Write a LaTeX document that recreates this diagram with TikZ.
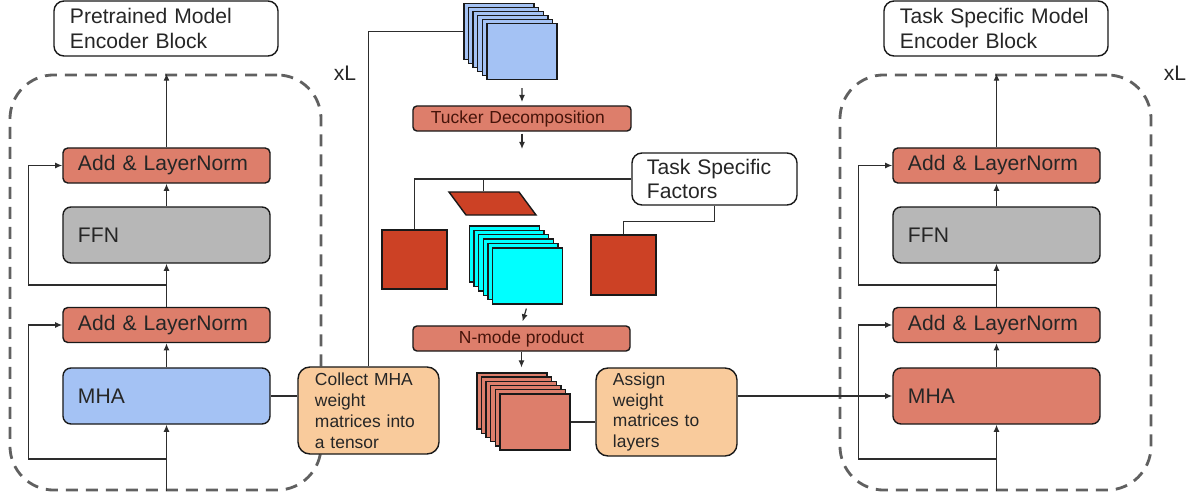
\documentclass[tikz,border=0pt]{standalone}
\usepackage{fontspec}
\setmainfont{Liberation Sans}
\usepackage{tikz}
\usetikzlibrary{arrows.meta,positioning,calc}
\usepackage{xcolor}
\definecolor{salmon}{RGB}{221,126,107}
\definecolor{ffngray}{RGB}{183,183,183}
\definecolor{mhablue}{RGB}{164,194,244}
\definecolor{noteorange}{RGB}{249,203,156}
\definecolor{factorred}{RGB}{204,65,37}
\definecolor{corecyan}{RGB}{0,255,255}
\definecolor{dashgray}{RGB}{96,96,96}
\definecolor{linegray}{RGB}{45,45,45}
\definecolor{optext}{RGB}{70,20,10}
\newcommand{\mainsize}{\fontsize{15}{17.7}\selectfont}
\newcommand{\notesize}{\fontsize{12.4}{14.9}\selectfont}
\tikzset{
  enode/.style={draw=black!90,line width=1pt,rounded corners=1.2mm,minimum width=5.175cm,minimum height=0.875cm,
    text width=4.425cm,inner xsep=0.375cm,inner ysep=0pt,align=left,font=\mainsize,text=black!85},
  enoder/.style={enode,fill=salmon},
  enodeg/.style={enode,fill=ffngray,minimum height=1.4cm,rounded corners=2mm},
  enodeb/.style={enode,fill=mhablue,minimum height=1.4cm,rounded corners=2mm},
  titlenode/.style={draw=black!90,line width=1pt,rounded corners=2.5mm,fill=white,text width=4.8cm,inner xsep=0.4cm,
    minimum height=1.375cm,inner ysep=0pt,align=left,font=\mainsize,text=black!85},
  notenode/.style={draw=black!90,line width=1pt,rounded corners=3mm,fill=noteorange,text width=2.675cm,inner xsep=0.425cm,
    minimum height=2.175cm,inner ysep=0pt,align=left,font=\notesize,text=black!85},
  opnode/.style={draw=black!90,line width=1pt,rounded corners=1mm,fill=salmon,minimum height=0.625cm,inner ysep=0pt,
    inner xsep=0.45cm,align=left,font=\notesize,text=optext},
  ringnode/.style={draw=dashgray,line width=2pt,dash pattern=on 0.3cm off 0.2cm,rounded corners=1.1cm,
    minimum width=7.775cm,minimum height=10.375cm},
  card/.style={draw=black!90,line width=1pt,minimum width=1.75cm,minimum height=1.4cm,inner sep=0pt},
  factor/.style={draw=black!90,line width=1pt,fill=factorred,inner sep=0pt},
  link/.style={draw=linegray,line width=0.85pt},
  mainflow/.style={link,-{Latex[length=1.8mm,width=1.5mm]}}
}
\begin{document}
\begin{tikzpicture}[x=0.025cm,y=-0.025cm]
  \useasboundingbox (0,0) rectangle (1199,499);

  % pretrained model
  \node[titlenode] (ptitle) at (166,28.5) {Pretrained Model\\Encoder Block};
  \node[ringnode] (pblock) at (165.5,282.5) {};
  \node[font=\mainsize,text=black!85] (pxl) at (345,73) {xL};
  \node[enoder] (padd2) at (166.5,165.5) {Add \& LayerNorm};
  \node[enodeg] (pffn) at (166.5,235) {FFN};
  \node[enoder] (padd1) at (166.5,325) {Add \& LayerNorm};
  \node[enodeb] (pmha) at (166.5,396) {MHA};
  \coordinate (pr1) at (166.5,459);
  \coordinate (pr2) at (166.5,285);

  \draw[mainflow] (pblock.south -| pmha) -- (pmha.south);
  \draw[mainflow] (pmha.north) -- (padd1.south);
  \draw[mainflow] (padd1.north) -- (pffn.south);
  \draw[mainflow] (pffn.north) -- (padd2.south);
  \draw[mainflow] (padd2.north) -- (padd2.north |- pblock.north);
  \draw[mainflow] (pr1) -| ([xshift=-0.85cm]padd1.west) -- (padd1.west);
  \draw[mainflow] (pr2) -| ([xshift=-0.85cm]padd2.west) -- (padd2.west);

  % tensor pipeline
  \node[notenode] (collect) at (368.5,410.5) {Collect MHA\\weight\\matrices into\\a tensor};
  \foreach \i in {0,...,5}
    \node[card,fill=mhablue] (wt\i) at (499+4.6*\i,31.5+4*\i) {};
  \node[opnode,minimum width=5.45cm,text width=4.55cm] (tucker) at (522,118.5) {Tucker Decomposition};
  \coordinate (tkout) at (522,149);
  \node[titlenode,text width=3.375cm,inner xsep=0.375cm,minimum height=1.3cm] (factors) at (714.5,179) {Task Specific\\Factors};
  \node[factor,minimum width=1.75cm,minimum height=0.575cm,xslant=-0.74] (par) at (492.5,203.5) {};
  \node[factor,minimum width=1.625cm,minimum height=1.475cm] (lsq) at (414.5,259.5) {};
  \node[factor,minimum width=1.625cm,minimum height=1.5cm] (rsq) at (623.5,265) {};
  \foreach \i in {0,...,5}
    \node[card,fill=corecyan] (core\i) at (504.5+4.6*\i,254+4.4*\i) {};
  \node[opnode,minimum width=5.425cm,align=center] (nmode) at (521.5,338.5) {N-mode product};
  \foreach \i in {0,...,5}
    \node[card,fill=salmon] (nw\i) at (512+4.6*\i,401+4.2*\i) {};
  \node[notenode,minimum height=2.2cm] (assign) at (666.5,412) {Assign\\weight\\matrices to\\layers};

  \draw[link] (pmha.east) -- (pmha.east -| collect.west);
  \draw[link] (collect.north) |- (wt0.west);
  \draw[mainflow,shorten <=0.2cm,shorten >=0.08cm] (wt5.south) -- (tucker.north);
  \draw[mainflow,shorten <=0.05cm] (tucker.south) -- (tkout);
  \draw[link] (factors.west) -| (lsq.north);
  \draw[link] (par.north) -- (par.north |- factors.west);
  \draw[link] (factors.south) -- ++(0,16) -| (rsq.north);
  \draw[mainflow,shorten <=0.1cm,shorten >=0.1cm] (core5.south) -- (nmode.north);
  \draw[mainflow,shorten >=0.12cm] (nmode.south) -- (nmode.south |- nw0.north);
  \draw[link] (nw5.east) -- (nw5.east -| assign.west);

  % task specific model
  \node[titlenode] (ttitle) at (996,28.5) {Task Specific Model\\Encoder Block};
  \node[ringnode] (tblock) at (995.5,282.5) {};
  \node[font=\mainsize,text=black!85] (txl) at (1175,73) {xL};
  \node[enoder] (tadd2) at (996.5,165.5) {Add \& LayerNorm};
  \node[enodeg] (tffn) at (996.5,235) {FFN};
  \node[enoder] (tadd1) at (996.5,325) {Add \& LayerNorm};
  \node[enoder,minimum height=1.4cm,rounded corners=2mm] (tmha) at (996.5,396) {MHA};
  \coordinate (tr1) at (996.5,459);
  \coordinate (tr2) at (996.5,285);

  \draw[mainflow] (assign.east |- tmha.west) -- (tmha.west);
  \draw[mainflow] (tblock.south -| tmha) -- (tmha.south);
  \draw[mainflow] (tmha.north) -- (tadd1.south);
  \draw[mainflow] (tadd1.north) -- (tffn.south);
  \draw[mainflow] (tffn.north) -- (tadd2.south);
  \draw[mainflow] (tadd2.north) -- (tadd2.north |- tblock.north);
  \draw[mainflow] (tr1) -| ([xshift=-0.85cm]tadd1.west) -- (tadd1.west);
  \draw[mainflow] (tr2) -| ([xshift=-0.85cm]tadd2.west) -- (tadd2.west);
\end{tikzpicture}
\end{document}
